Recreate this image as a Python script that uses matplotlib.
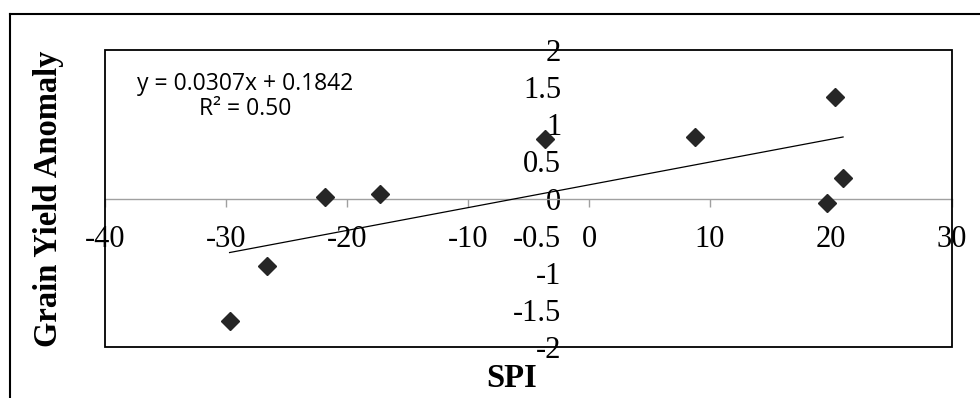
import numpy as np
import matplotlib.pyplot as plt
from matplotlib.patches import Rectangle
from matplotlib.lines import Line2D

# SPI vs grain yield anomaly
spi = [-29.7, -26.6, -21.8, -17.3, -3.6, 8.8, 20.3, 21.0, 19.7]
yieldAnomaly = [-1.65, -0.91, 0.02, 0.06, 0.80, 0.83, 1.37, 0.27, -0.06]

slope = 0.0307
intercept = 0.1842
eqText = "y = 0.0307x + 0.1842\nR² = 0.50"

xTicks = [-40, -30, -20, -10, 0, 10, 20, 30]
yTicks = [-2, -1.5, -1, -0.5, 0, 0.5, 1, 1.5, 2]
yTickLabels = ["-2", "-1.5", "-1", "-0.5", "0", "0.5", "1", "1.5", "2"]

serif = "Liberation Serif"

fig = plt.figure(figsize=(9.8, 3.98), dpi=100)
ax = fig.add_axes([0.1071, 0.1281, 0.8643, 0.7462])

# 1) Points and trend line
ax.plot(spi, yieldAnomaly, linestyle="none", marker="D", markersize=9.5,
        color="#262626", markeredgecolor="#262626", zorder=4)
xs = np.array([min(spi), max(spi)])
ax.plot(xs, slope * xs + intercept, color="black", linewidth=0.9, zorder=5)

ax.set_xlim(-40, 30)
ax.set_ylim(-2, 2)

# 2) Axes crossing at zero, Excel style
ax.spines["bottom"].set_position(("data", 0))
ax.spines["bottom"].set_color("#a0a0a0")
ax.spines["bottom"].set_linewidth(1.0)
ax.spines["left"].set_position(("data", 0))
ax.spines["left"].set_visible(False)
ax.spines["top"].set_visible(False)
ax.spines["right"].set_visible(False)

ax.set_xticks(xTicks)
ax.set_xticklabels([str(t) for t in xTicks])
ax.set_yticks(yTicks)
ax.set_yticklabels(yTickLabels)
ax.tick_params(axis="x", direction="out", length=5.8, width=1.0, color="#a0a0a0",
               pad=13, labelsize=22)
ax.tick_params(axis="y", length=0, pad=20, labelsize=22)
for lbl in ax.get_xticklabels() + ax.get_yticklabels():
    lbl.set_fontfamily(serif)

# plot area border
ax.add_patch(Rectangle((0, 0), 1, 1, transform=ax.transAxes, fill=False,
                       edgecolor="black", linewidth=1.3, clip_on=False, zorder=6))

# 3) Equation label and axis titles
ax.text(0.165, 0.843, eqText, transform=ax.transAxes, ha="center", va="center",
        fontsize=16.5, family="Open Sans", linespacing=1.02)

fig.text(0.049, 0.5, "Grain Yield Anomaly", rotation=90, ha="center", va="center",
         fontsize=23.5, fontweight="bold", family=serif)
fig.text(0.522, 0.05, "SPI", ha="center", va="center",
         fontsize=23.5, fontweight="bold", family=serif)

# 4) Outer chart border (cut off on the right and bottom)
fig.add_artist(Line2D([10 / 980, 1.0], [1 - 14 / 398, 1 - 14 / 398], color="black", linewidth=1.5))
fig.add_artist(Line2D([10 / 980, 10 / 980], [0.0, 1 - 14 / 398], color="black", linewidth=1.5))

fig.savefig("out.png", dpi=100)
